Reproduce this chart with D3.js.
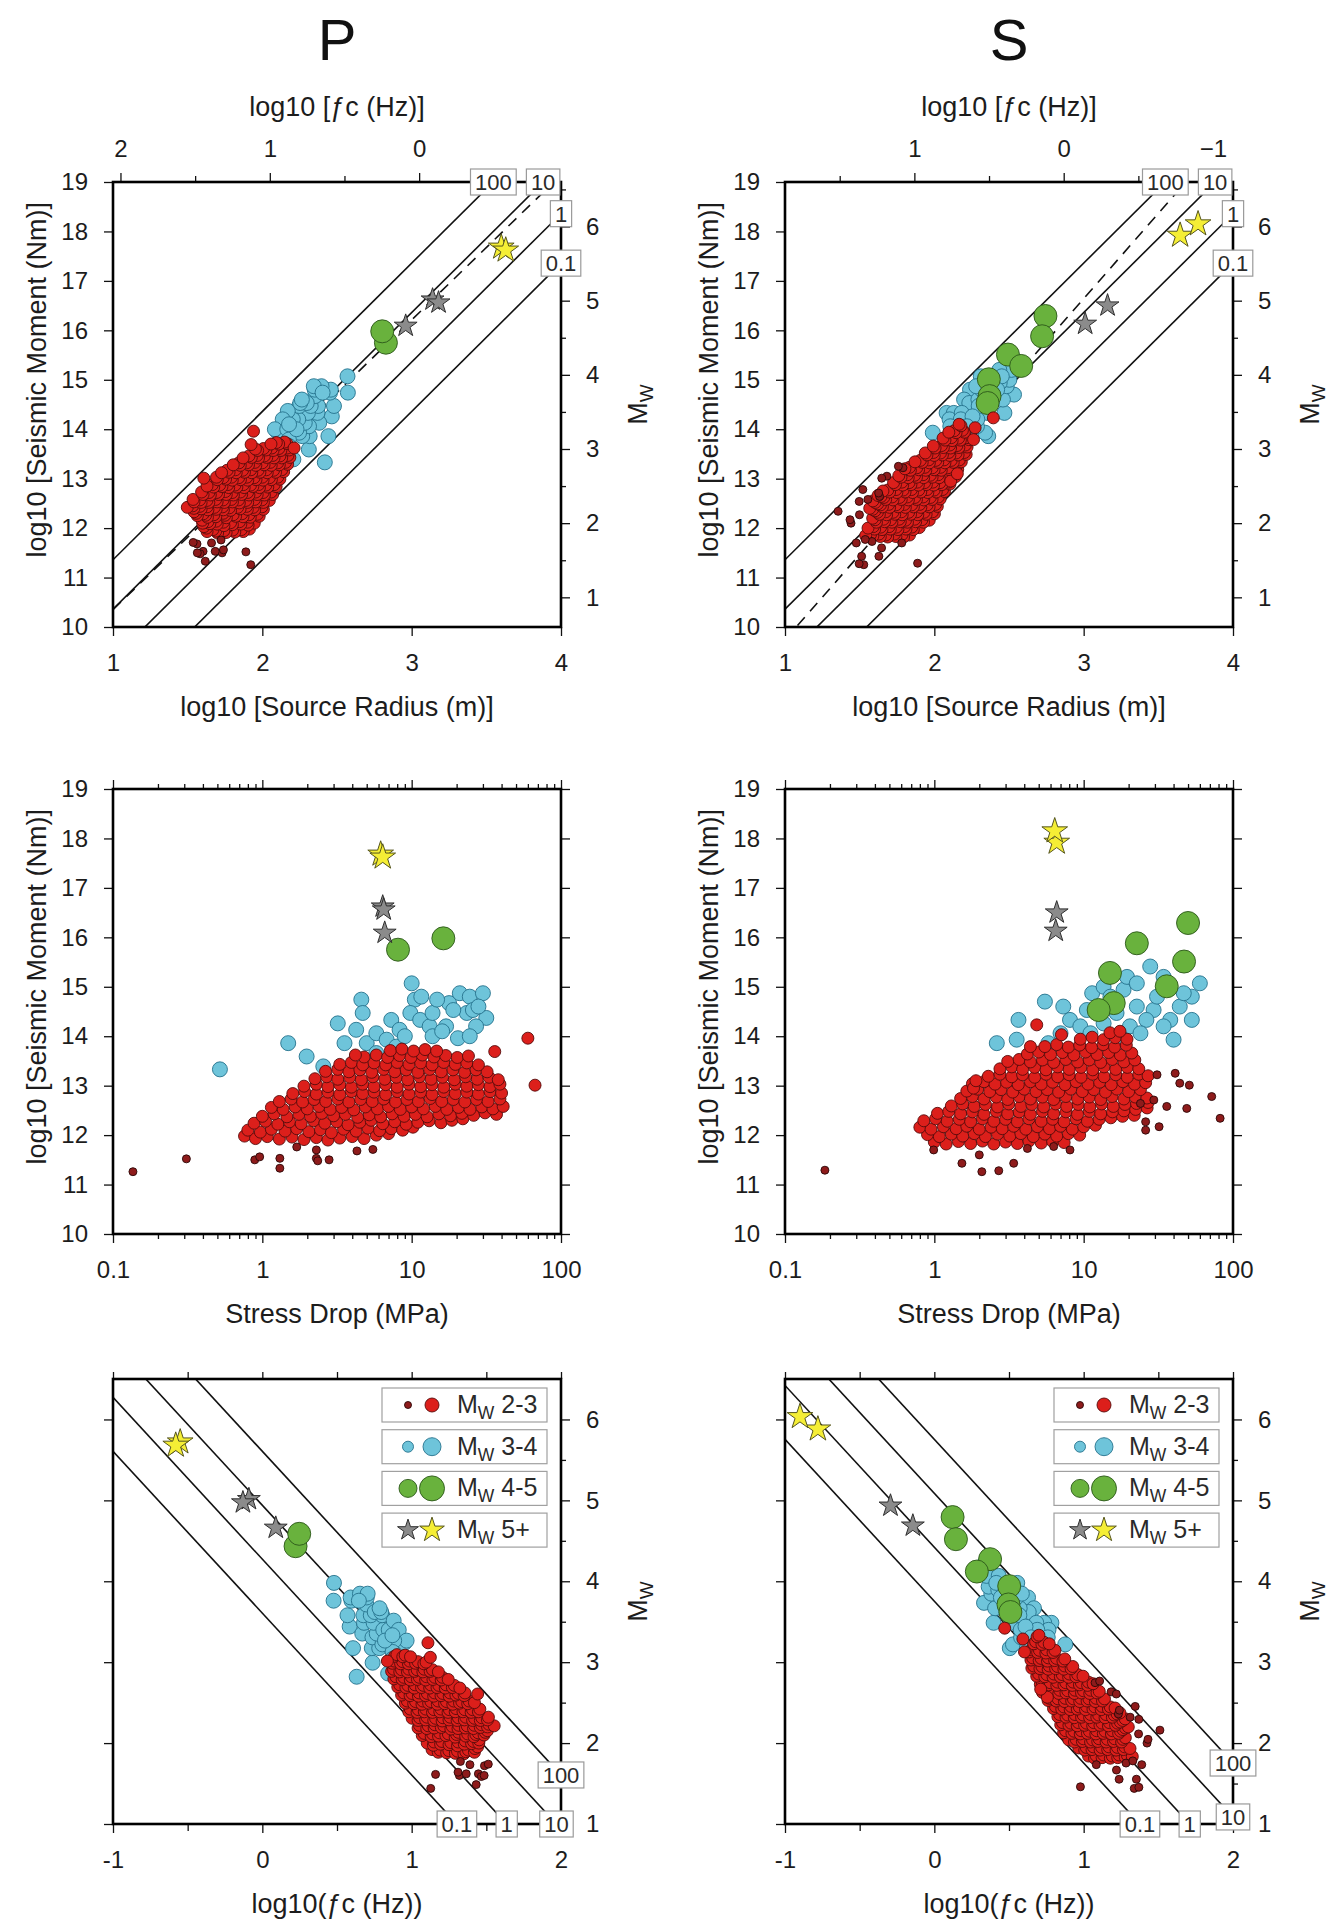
<!DOCTYPE html>
<html><head><meta charset="utf-8">
<script src="https://cdn.jsdelivr.net/npm/d3@7"></script>
<style>
body{margin:0;background:#fff;}
</style></head><body>
<svg id="chart" width="1340" height="1924"></svg>
<script>
// ---------------- DATA ----------------
// circles: [stress drop (MPa), log10 M0 (Nm)]
const redP = [
[0.76,11.98],[0.9,11.93],[1.08,11.97],[1.3,11.92],[1.58,11.96],[1.9,11.91],[2.3,11.95],[2.75,11.9],[3.3,11.94],[4.0,11.97],[4.8,11.93],[5.8,12.0],[7.0,12.03],
[0.8,12.1],[0.97,12.06],[1.15,12.12],[1.42,12.08],[1.7,12.13],[2.05,12.07],[2.45,12.11],[2.9,12.05],[3.5,12.12],[4.25,12.08],[5.1,12.14],[6.1,12.09],[7.3,12.13],[8.7,12.1],[10.2,12.16],
[0.88,12.24],[1.05,12.28],[1.27,12.22],[1.52,12.27],[1.82,12.23],[2.2,12.29],[2.62,12.24],[3.15,12.27],[3.75,12.21],[4.5,12.26],[5.35,12.3],[6.4,12.23],[7.7,12.27],[9.2,12.22],[11,12.26],[13.1,12.29],[15.7,12.25],[18.6,12.3],[22,12.33],
[1.0,12.38],[1.2,12.43],[1.46,12.37],[1.76,12.42],[2.1,12.38],[2.5,12.44],[3.0,12.39],[3.6,12.42],[4.35,12.36],[5.2,12.41],[6.2,12.37],[7.4,12.43],[8.9,12.38],[10.6,12.42],[12.7,12.37],[15.2,12.43],[18.2,12.39],[21.7,12.44],[26,12.4],[31,12.45],[37,12.42],
[1.15,12.56],[1.38,12.52],[1.66,12.57],[2.0,12.53],[2.4,12.58],[2.85,12.52],[3.4,12.56],[4.1,12.51],[4.9,12.57],[5.9,12.53],[7.0,12.58],[8.4,12.52],[10,12.57],[12,12.53],[14.4,12.58],[17.2,12.52],[20.6,12.56],[24.6,12.52],[29.5,12.57],[35,12.53],[41,12.58],
[1.3,12.68],[1.56,12.73],[1.86,12.67],[2.22,12.72],[2.66,12.68],[3.2,12.73],[3.8,12.67],[4.55,12.72],[5.45,12.68],[6.5,12.73],[7.8,12.67],[9.3,12.72],[11.1,12.68],[13.3,12.74],[15.9,12.68],[19,12.72],[22.7,12.67],[27.2,12.72],[32.5,12.68],[39,12.73],
[1.6,12.84],[1.92,12.88],[2.3,12.83],[2.75,12.87],[3.3,12.82],[3.95,12.88],[4.7,12.84],[5.6,12.87],[6.7,12.82],[8.0,12.88],[9.6,12.83],[11.5,12.87],[13.7,12.82],[16.4,12.88],[19.6,12.84],[23.4,12.87],[28,12.83],[33.5,12.88],[40,12.85],
[1.9,12.99],[2.3,13.03],[2.75,12.98],[3.3,13.02],[3.95,12.97],[4.7,13.03],[5.6,12.98],[6.7,13.02],[8.0,12.97],[9.6,13.03],[11.5,12.98],[13.7,13.02],[16.4,12.97],[19.6,13.03],[23.4,12.99],[28,13.02],[33.5,12.98],[39,13.03],
[2.25,13.14],[2.7,13.18],[3.2,13.13],[3.85,13.17],[4.6,13.12],[5.5,13.18],[6.6,13.13],[7.9,13.17],[9.4,13.12],[11.3,13.18],[13.5,13.13],[16.1,13.17],[19.3,13.12],[23,13.18],[27.5,13.13],[33,13.17],[38,13.12],
[2.65,13.29],[3.2,13.33],[3.8,13.28],[4.5,13.32],[5.4,13.27],[6.5,13.33],[7.7,13.28],[9.2,13.32],[11,13.27],[13.2,13.33],[15.8,13.28],[18.9,13.32],[22.6,13.27],[27,13.32],[32,13.28],
[3.3,13.43],[3.95,13.47],[4.7,13.42],[5.6,13.46],[6.7,13.42],[8.0,13.47],[9.6,13.43],[11.5,13.46],[13.7,13.42],[16.4,13.47],[19.6,13.43],[23.4,13.46],[28,13.42],
[4.8,13.58],[5.8,13.62],[6.9,13.57],[8.3,13.61],[9.9,13.57],[11.8,13.62],[14.1,13.58],[16.9,13.61],[20.2,13.57],[24,13.6],
[7.2,13.71],[8.6,13.74],[10.3,13.7],[12.3,13.73],[14.7,13.7],
[4.2,13.62],[36,13.69],[60,13.96],[67,13.01]
];
const smallP = [
[0.136,11.26],[0.31,11.52],[0.89,11.5],[0.96,11.56],[1.31,11.53],[1.31,11.33],[1.7,11.76],[2.3,11.53],[2.35,11.48],[2.8,11.5],[2.3,11.7],[4.3,11.68],[5.5,11.71]
];
const blueP = [
[0.52,13.33],[1.49,13.86],[1.98,13.59],[2.56,13.39],[3.2,14.26],[4.6,14.74],[4.7,14.47],[3.55,13.86],[4.25,14.13],[5.0,13.86],[5.8,14.06],[6.8,13.93],[7.3,14.33],[8.3,14.13],[10,15.07],[10.5,14.74],[11.6,14.8],[9.8,14.47],[11.4,14.33],[13.2,14.2],[13.8,14.47],[17,14.2],[17.8,14.67],[21,14.87],[23.4,14.47],[24.5,14.8],[30,14.87],[31.6,14.37],[27,14.2],[20.4,13.96],[24.5,14.0],[13.8,14.0],[7.9,13.79],[5.8,13.66],[19,14.53],[25.7,14.53],[14.8,14.74],[9.0,14.0],[16,14.1],[28,14.6]
];
const greenP = [[8.1,15.75],[16.3,15.98]];

const redS = [
[1.0,11.86],[1.2,11.82],[1.45,11.87],[1.75,11.83],[2.1,11.88],[2.5,11.82],[3.0,11.86],[3.6,11.83],[4.3,11.88],[5.2,11.84],[6.2,11.87],[7.4,11.85],
[0.9,12.01],[1.08,11.97],[1.3,12.02],[1.55,11.98],[1.85,12.03],[2.2,11.97],[2.65,12.02],[3.2,11.98],[3.8,12.03],[4.6,11.97],[5.5,12.02],[6.6,11.98],[7.9,12.03],[9.4,12.0],
[0.8,12.16],[0.95,12.12],[1.15,12.17],[1.4,12.13],[1.65,12.18],[2.0,12.12],[2.4,12.16],[2.85,12.13],[3.4,12.18],[4.1,12.12],[4.9,12.17],[5.9,12.13],[7.0,12.18],[8.4,12.12],[10,12.17],[12,12.2],
[0.85,12.29],[1.02,12.33],[1.22,12.28],[1.47,12.32],[1.75,12.27],[2.1,12.33],[2.5,12.28],[3.0,12.32],[3.6,12.27],[4.3,12.33],[5.2,12.28],[6.2,12.32],[7.4,12.27],[8.9,12.33],[10.6,12.28],[12.7,12.32],[15.2,12.35],[18.2,12.38],[21.8,12.4],
[1.05,12.44],[1.25,12.48],[1.5,12.43],[1.8,12.47],[2.15,12.42],[2.6,12.48],[3.1,12.43],[3.7,12.47],[4.4,12.42],[5.3,12.48],[6.3,12.43],[7.6,12.47],[9.1,12.42],[10.9,12.48],[13,12.43],[15.6,12.47],[18.6,12.49],[22.3,12.52],[26.6,12.55],
[1.3,12.59],[1.55,12.63],[1.85,12.58],[2.2,12.62],[2.65,12.57],[3.15,12.63],[3.8,12.58],[4.5,12.62],[5.4,12.57],[6.5,12.63],[7.7,12.58],[9.2,12.62],[11,12.57],[13.2,12.63],[15.8,12.58],[18.9,12.62],[22.6,12.64],[27,12.66],
[1.5,12.74],[1.8,12.78],[2.15,12.73],[2.6,12.77],[3.1,12.72],[3.7,12.78],[4.4,12.73],[5.3,12.77],[6.3,12.72],[7.6,12.78],[9.1,12.73],[10.9,12.77],[13,12.72],[15.5,12.78],[18.6,12.73],[22.2,12.77],[26.5,12.75],
[1.65,12.89],[1.95,12.93],[2.35,12.88],[2.8,12.92],[3.35,12.87],[4.0,12.93],[4.8,12.88],[5.7,12.92],[6.8,12.87],[8.2,12.93],[9.8,12.88],[11.7,12.92],[14,12.87],[16.7,12.93],[20,12.88],[24,12.92],
[1.8,13.04],[2.15,13.08],[2.55,13.03],[3.05,13.07],[3.65,13.02],[4.4,13.08],[5.2,13.03],[6.2,13.07],[7.5,13.02],[8.9,13.08],[10.7,13.03],[12.8,13.07],[15.3,13.02],[18.3,13.08],[21.9,13.03],[26,13.06],
[2.3,13.19],[2.75,13.23],[3.3,13.18],[3.9,13.22],[4.7,13.17],[5.6,13.23],[6.7,13.18],[8.0,13.22],[9.6,13.17],[11.5,13.23],[13.7,13.18],[16.4,13.22],[19.6,13.17],[23.4,13.23],[27,13.2],
[2.75,13.34],[3.3,13.38],[3.9,13.33],[4.7,13.37],[5.6,13.32],[6.7,13.38],[8.0,13.33],[9.6,13.37],[11.5,13.32],[13.7,13.38],[16.4,13.33],[19.6,13.37],[23.4,13.34],
[3.1,13.49],[3.7,13.53],[4.4,13.48],[5.3,13.52],[6.3,13.47],[7.6,13.53],[9.1,13.48],[10.9,13.52],[13,13.47],[15.5,13.53],[18.6,13.48],[22,13.52],
[4.2,13.64],[5.0,13.68],[6.0,13.63],[7.2,13.67],[8.6,13.62],[10.3,13.68],[12.3,13.63],[14.7,13.67],[17.6,13.62],[21,13.66],
[5.5,13.79],[6.6,13.83],[7.9,13.78],[9.4,13.82],[11.3,13.77],[13.5,13.83],[16.1,13.78],[19.3,13.82],
[9.5,13.94],[11.4,13.98],[13.6,13.93],[16.3,13.97],[19.5,13.94],
[15,14.07],[17.5,14.1],
[4.85,14.23],[7.1,14.03],[4.4,13.79],[1.83,12.95],[1.9,13.1]
];
const smallS = [
[0.185,11.29],[1.53,11.43],[2.08,11.26],[2.7,11.28],[3.4,11.43],[0.99,11.7],[2.0,11.6],[4.2,11.73],[6.3,11.77],[8.1,11.7],[26,12.1],[32,12.17],[31,13.22],[41,13.25],[44,13.05],[51,13.01],[72,12.78],[82,12.34],[36,12.58],[49,12.54],[24,12.64],[29.5,12.71],[26,12.27]
];
const blueS = [
[2.62,13.86],[3.56,13.93],[3.66,14.33],[5.5,14.7],[7.3,14.6],[5.8,13.86],[7.0,14.06],[8.1,14.33],[9.5,14.2],[11.4,14.87],[13.6,15.0],[18.5,14.94],[19.5,15.2],[27.9,15.41],[34.3,15.2],[60,15.07],[53,14.8],[44,14.6],[53,14.33],[38,14.33],[34.3,14.2],[40,13.93],[29.4,14.53],[22.7,14.6],[26.3,14.33],[20.4,14.2],[16.6,14.47],[13.6,14.26],[11.1,14.06],[17.6,13.99],[24,14.06],[31,14.8],[22.7,15.07],[15.1,14.8],[10.5,14.53],[46.8,14.87]
];
const greenS = [[50,16.29],[22.7,15.88],[47,15.51],[15,15.28],[36,15.01],[15.9,14.67],[12.6,14.53]];

// stars: [log10 source radius (m), stress drop (MPa), log10 M0 (Nm)]
const yellowStarsP = [[3.60,6.2,17.68],[3.63,6.4,17.62]];
const greyStarsP   = [[3.14,6.4,16.62],[3.18,6.5,16.56],[2.96,6.6,16.09]];
const yellowStarsS = [[3.646,6.6,17.92],[3.766,6.4,18.15]];
const greyStarsS   = [[3.01,6.5,16.13],[3.16,6.6,16.5]];

// reference relations
const stressLevels = [0.1, 1, 10, 100];                // MPa, constant stress-drop lines
const kBeta = {P:1122, S:735};                         // k*beta (m/s) for fc axis
const lineKBeta = {P:1122, S:1330};                    // k*beta used for Mw-fc stress lines
const dashFit = {P:[7.42,2.93], S:[6.29,3.45]};        // log10 M0 = a + b*log10 r

// tick values
const momentTicks = [10,11,12,13,14,15,16,17,18,19];
const radiusTicks = [1,2,3,4];
const mwTicks = [1,2,3,4,5,6];
const mwMinor = [1.5,2.5,3.5,4.5,5.5,6.5];
const fcTopTicks = [-1,0,1,2];
const fcTopMinor = [-0.5,0.5,1.5];
const sdTicks = [0.1,1,10,100];
const sdMinor = [0.2,0.3,0.4,0.5,0.6,0.7,0.8,0.9,2,3,4,5,6,7,8,9,20,30,40,50,60,70,80,90];
const fcTicks = [-1,0,1,2];
const fcMinor = [-0.5,0.5,1.5];
const legendItems = ['2-3','3-4','4-5','5+'];

// ---------------- LAYOUT ----------------
const FONT = '"Liberation Sans", Arial, Helvetica, sans-serif';
const svg = d3.select('#chart');
svg.append('rect').attr('width',1340).attr('height',1924).attr('fill','#fff');
const colX = {P:[113,561], S:[785,1233]};
const rowY = [[182,627],[789,1234],[1379,1824]];
const LOG16_7 = Math.log10(16/7);
const toMw = m => (2/3)*(m-9.1);
const toM0 = mw => 1.5*mw+9.1;
const logR = (sd,m) => (m - 6 - LOG16_7 - Math.log10(sd))/3;
const fmtInt = d => String(d);
const topLayers = [];

const sty = {
  red:{fill:'#dc1f1b',stroke:'#560b0b',r:6},
  small:{fill:'#8e1b1b',stroke:'#2a0808',r:4},
  blue:{fill:'#6ec4da',stroke:'#25728c',r:7.5},
  green:{fill:'#69b23d',stroke:'#2b571a',r:11.5},
  grey:{fill:'#8b8b8b',stroke:'#2e2e2e',R:12},
  yellow:{fill:'#f5ee35',stroke:'#55551e',R:13.5}
};
const KA = 0.8908130915292852;

const dataSets = {
  P:{red:redP,small:smallP,blue:blueP,green:greenP,grey:greyStarsP,yellow:yellowStarsP},
  S:{red:redS,small:smallS,blue:blueS,green:greenS,grey:greyStarsS,yellow:yellowStarsS}
};
function events(w){
  const d = dataSets[w], out = [];
  ['blue','green','red','small'].forEach(c => d[c].forEach(p => out.push({cls:c, sd:p[0], m:p[1], lr:logR(p[0],p[1])})));
  ['grey','yellow'].forEach(c => d[c].forEach(p => out.push({cls:c, lr:p[0], sd:p[1], m:p[2]})));
  return out;
}

function styleAxis(g){
  g.attr('font-family',FONT).attr('font-size',24);
  g.select('.domain').remove();
  g.selectAll('.tick line').attr('stroke','#111').attr('stroke-width',1.3);
  g.selectAll('.tick text').attr('fill','#1c1c1c');
  return g;
}
function addAxis(axis){ return styleAxis(svg.append('g').call(axis)); }

function drawMarks(g, evs, px, py){
  evs.forEach(e => {
    const s = sty[e.cls];
    if (s.r) {
      g.append('circle').attr('cx',px(e)).attr('cy',py(e)).attr('r',s.r)
        .attr('fill',s.fill).attr('stroke',s.stroke).attr('stroke-width',0.9);
    } else {
      g.append('path').attr('d',d3.symbol(d3.symbolStar, s.R*s.R/KA)())
        .attr('transform',`translate(${px(e)},${py(e)})`)
        .attr('fill',s.fill).attr('stroke',s.stroke).attr('stroke-width',1);
    }
  });
}
function labelBox(g, x, y, txt){
  const t = g.append('text').attr('x',x).attr('y',y+8).attr('text-anchor','middle')
    .attr('font-family',FONT).attr('font-size',22).attr('fill','#2a2a2a').text(txt);
  const w = t.node().getComputedTextLength()+9;
  g.insert('rect','text').attr('x',x-w/2).attr('y',y-13).attr('width',w).attr('height',26)
    .attr('fill','#fff').attr('stroke','#9a9a9a').attr('stroke-width',1.2);
  t.raise();
}
function mwText(sel){
  sel.append('tspan').text('M');
  sel.append('tspan').attr('dy',6).attr('font-size','0.7em').text('W');
}

['P','S'].forEach(w => {
  const [x0,x1] = colX[w];
  const cx = (x0+x1)/2;
  const evs = events(w);
  const logKB = Math.log10(kBeta[w]);

  svg.append('text').attr('x',cx).attr('y',60).attr('text-anchor','middle')
    .attr('font-family',FONT).attr('font-size',58).attr('fill','#111').text(w);

  rowY.forEach(([y0,y1], row) => {
    const clipId = `clip-${w}-${row}`;
    svg.append('clipPath').attr('id',clipId).append('rect')
      .attr('x',x0).attr('y',y0).attr('width',x1-x0).attr('height',y1-y0);
    const gl = svg.append('g').attr('clip-path',`url(#${clipId})`);
    const gm = svg.append('g');
    const gb = svg.append('g');
    topLayers.push(gb);
    let xs, ys, px, py;

    if (row === 0) {
      xs = d3.scaleLinear([1,4],[x0,x1]);
      ys = d3.scaleLinear([10,19],[y1,y0]);
      px = e => xs(e.lr); py = e => ys(e.m);
      const line = d3.line().x(d => xs(d[0])).y(d => ys(d[1]));
      stressLevels.forEach(sd => {
        const f = lr => 6 + LOG16_7 + Math.log10(sd) + 3*lr;
        gl.append('path').attr('d',line([[1,f(1)],[4,f(4)]])).attr('fill','none')
          .attr('stroke','#111').attr('stroke-width',1.6);
      });
      const [a,b] = dashFit[w];
      gl.append('path').attr('d',line([[1,a+b],[4,a+4*b]])).attr('fill','none')
        .attr('stroke','#111').attr('stroke-width',1.6).attr('stroke-dasharray','11,8');
      drawMarks(gm, evs, px, py);
      // axes
      addAxis(d3.axisLeft(ys).tickValues(momentTicks).tickSize(9).tickPadding(16).tickFormat(fmtInt)).attr('transform',`translate(${x0},0)`);
      addAxis(d3.axisBottom(xs).tickValues(radiusTicks).tickSize(9).tickPadding(18).tickFormat(fmtInt)).attr('transform',`translate(0,${y1})`);
      const yMw = d3.scaleLinear([toMw(10),toMw(19)],[y1,y0]);
      addAxis(d3.axisRight(yMw).tickValues(mwTicks).tickSize(9).tickPadding(16).tickFormat(fmtInt)).attr('transform',`translate(${x1},0)`);
      addAxis(d3.axisRight(yMw).tickValues(mwMinor.filter(v => v < toMw(19))).tickSize(5).tickFormat('')).attr('transform',`translate(${x1},0)`);
      const xfc = d3.scaleLinear([logKB-1, logKB-4],[x0,x1]);
      const inD = v => v <= logKB-1 + 1e-9 && v >= logKB-4;
      addAxis(d3.axisTop(xfc).tickValues(fcTopTicks.filter(inD)).tickSize(9).tickPadding(16)
        .tickFormat(d => d < 0 ? '\u2212'+Math.abs(d) : String(d))).attr('transform',`translate(0,${y0})`);
      addAxis(d3.axisTop(xfc).tickValues(fcTopMinor.filter(inD)).tickSize(6).tickFormat('')).attr('transform',`translate(0,${y0})`);
      // titles
      svg.append('text').attr('x',cx).attr('y',116).attr('text-anchor','middle')
        .attr('font-family',FONT).attr('font-size',27).attr('fill','#1c1c1c').text('log10 [\u0192c (Hz)]');
      svg.append('text').attr('x',cx).attr('y',y1+89).attr('text-anchor','middle')
        .attr('font-family',FONT).attr('font-size',27).attr('fill','#1c1c1c').text('log10 [Source Radius (m)]');
      // frame + labels
      gb.append('rect').attr('x',x0).attr('y',y0).attr('width',x1-x0).attr('height',y1-y0)
        .attr('fill','none').attr('stroke','#000').attr('stroke-width',2.6);
      stressLevels.forEach(sd => {
        const c = 6 + LOG16_7 + Math.log10(sd);
        const lrTop = (19 - c)/3;
        const pt = lrTop <= 4 ? [lrTop,19] : [4, c+12];
        labelBox(gb, xs(pt[0]), ys(pt[1]), String(sd));
      });
    } else if (row === 1) {
      xs = d3.scaleLog([0.1,100],[x0,x1]);
      ys = d3.scaleLinear([10,19],[y1,y0]);
      px = e => xs(e.sd); py = e => ys(e.m);
      drawMarks(gm, evs, px, py);
      addAxis(d3.axisLeft(ys).tickValues(momentTicks).tickSize(9).tickPadding(16).tickFormat(fmtInt)).attr('transform',`translate(${x0},0)`);
      addAxis(d3.axisRight(ys).tickValues(momentTicks).tickSize(9).tickFormat('')).attr('transform',`translate(${x1},0)`);
      addAxis(d3.axisBottom(xs).tickValues(sdTicks).tickSize(9).tickPadding(18).tickFormat(fmtInt)).attr('transform',`translate(0,${y1})`);
      addAxis(d3.axisBottom(xs).tickValues(sdMinor).tickSize(5).tickFormat('')).attr('transform',`translate(0,${y1})`);
      addAxis(d3.axisTop(xs).tickValues(sdTicks).tickSize(9).tickFormat('')).attr('transform',`translate(0,${y0})`);
      addAxis(d3.axisTop(xs).tickValues(sdMinor).tickSize(5).tickFormat('')).attr('transform',`translate(0,${y0})`);
      svg.append('text').attr('x',cx).attr('y',y1+89).attr('text-anchor','middle')
        .attr('font-family',FONT).attr('font-size',27).attr('fill','#1c1c1c').text('Stress Drop (MPa)');
      gb.append('rect').attr('x',x0).attr('y',y0).attr('width',x1-x0).attr('height',y1-y0)
        .attr('fill','none').attr('stroke','#000').attr('stroke-width',2.6);
    } else {
      xs = d3.scaleLinear([-1,2],[x0,x1]);
      ys = d3.scaleLinear([1,6.5],[y1,y0]);
      px = e => xs(logKB - e.lr); py = e => ys(toMw(e.m));
      const C = 6 + LOG16_7 + 3*Math.log10(lineKBeta[w]);
      const line = d3.line().x(d => xs(d[0])).y(d => ys(d[1]));
      stressLevels.forEach(sd => {
        const f = fc => toMw(C + Math.log10(sd) - 3*fc);
        gl.append('path').attr('d',line([[-1,f(-1)],[2,f(2)]])).attr('fill','none')
          .attr('stroke','#111').attr('stroke-width',1.6);
      });
      drawMarks(gm, evs, px, py);
      addAxis(d3.axisLeft(ys).tickValues(mwTicks).tickSize(9).tickFormat('')).attr('transform',`translate(${x0},0)`);
      addAxis(d3.axisRight(ys).tickValues(mwTicks).tickSize(9).tickPadding(16).tickFormat(fmtInt)).attr('transform',`translate(${x1},0)`);
      addAxis(d3.axisRight(ys).tickValues(mwMinor.filter(v => v < 6.5)).tickSize(5).tickFormat('')).attr('transform',`translate(${x1},0)`);
      addAxis(d3.axisBottom(xs).tickValues(fcTicks).tickSize(9).tickPadding(18).tickFormat(fmtInt)).attr('transform',`translate(0,${y1})`);
      addAxis(d3.axisBottom(xs).tickValues(fcMinor).tickSize(7).tickFormat('')).attr('transform',`translate(0,${y1})`);
      addAxis(d3.axisTop(xs).tickValues(fcTicks.concat(fcMinor)).tickSize(7).tickFormat('')).attr('transform',`translate(0,${y0})`);
      svg.append('text').attr('x',cx).attr('y',y1+89).attr('text-anchor','middle')
        .attr('font-family',FONT).attr('font-size',27).attr('fill','#1c1c1c').text('log10(\u0192c (Hz))');
      gb.append('rect').attr('x',x0).attr('y',y0).attr('width',x1-x0).attr('height',y1-y0)
        .attr('fill','none').attr('stroke','#000').attr('stroke-width',2.6);
      stressLevels.forEach(sd => {
        const c = C + Math.log10(sd);
        const fcBot = (c - toM0(1))/3;
        const pt = fcBot <= 2 ? [fcBot,1] : [2, toMw(c-6)];
        labelBox(gb, xs(pt[0]), ys(pt[1]), String(sd));
      });
      // legend
      const lg = svg.append('g');
      const pairs = [['small','red'],['blue','blue'],['green','green'],['grey','yellow']];
      const smallR = [3.5,5.5,9,11];
      const bigR = [7,9,12.5,13];
      legendItems.forEach((lab,i) => {
        const by = y0 + 9 + i*41.7;
        lg.append('rect').attr('x',x1-179).attr('y',by).attr('width',165).attr('height',34)
          .attr('fill','#fff').attr('stroke','#a0a0a0').attr('stroke-width',1.2);
        const cyy = by+17;
        [[pairs[i][0],x1-153,smallR[i]],[pairs[i][1],x1-129,bigR[i]]].forEach(([c,xx,r]) => {
          const s = sty[c];
          if (i < 3) {
            lg.append('circle').attr('cx',xx).attr('cy',cyy).attr('r',r)
              .attr('fill',s.fill).attr('stroke',s.stroke).attr('stroke-width',0.9);
          } else {
            lg.append('path').attr('d',d3.symbol(d3.symbolStar, r*r/KA)())
              .attr('transform',`translate(${xx},${cyy})`)
              .attr('fill',s.fill).attr('stroke',s.stroke).attr('stroke-width',1);
          }
        });
        const t = lg.append('text').attr('x',x1-104).attr('y',cyy+8)
          .attr('font-family',FONT).attr('font-size',25).attr('fill','#2a2a2a');
        mwText(t);
        t.append('tspan').attr('dy',-6).text(' '+lab);
      });
    }

    // left title (rows 0,1)
    if (row < 2) {
      const ty = ys(15);
      svg.append('text').attr('transform',`translate(${x0-67},${ty}) rotate(-90)`)
        .attr('text-anchor','middle').attr('font-family',FONT).attr('font-size',27)
        .attr('fill','#1c1c1c').text('log10 [Seismic Moment (Nm)]');
    }
    // right Mw title (rows 0,2)
    if (row !== 1) {
      const t = svg.append('text').attr('transform',`translate(${x1+86},${(y0+y1)/2}) rotate(-90)`)
        .attr('text-anchor','middle').attr('font-family',FONT).attr('font-size',27).attr('fill','#1c1c1c');
      mwText(t);
    }
  });
});
// frames and stress-drop labels above the tick marks
topLayers.forEach(g => g.raise());
</script></body></html>
